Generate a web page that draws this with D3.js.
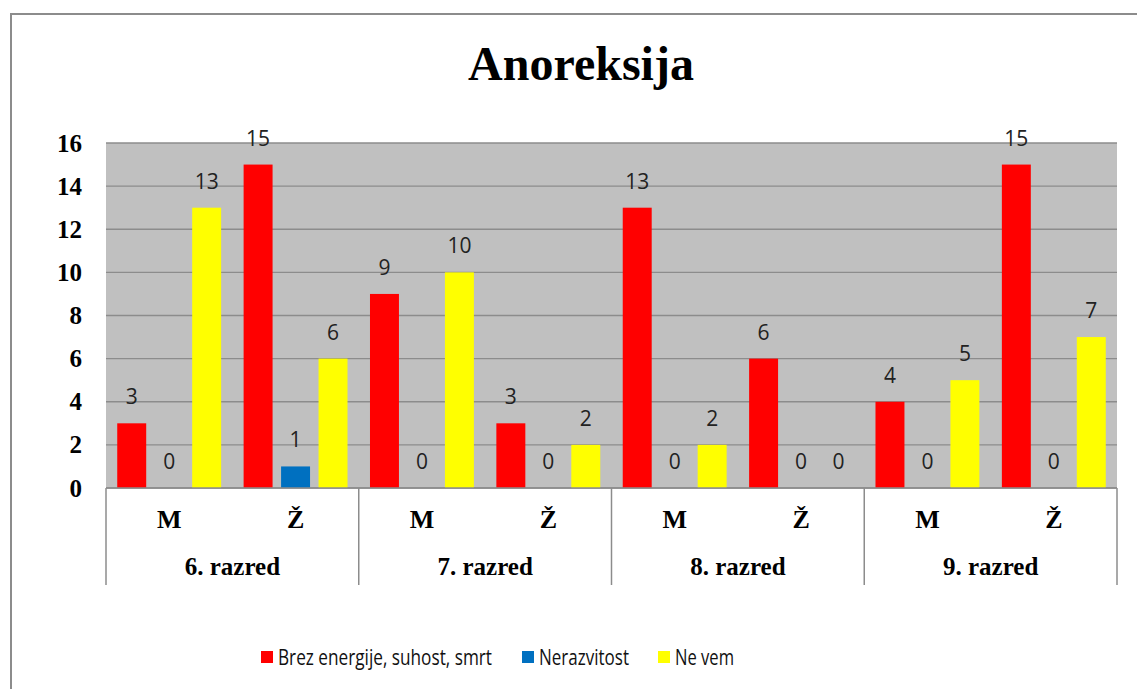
<!DOCTYPE html>
<html>
<head>
<meta charset="utf-8">
<script src="https://cdn.jsdelivr.net/npm/d3@7"></script>
<style>
  body { margin: 0; background: #fff; }
  svg { display: block; }
</style>
</head>
<body>
<div id="chart-container"></div>
<script>
// data
var groups = ["6. razred", "7. razred", "8. razred", "9. razred"];
var genders = ["M", "Ž"];
var seriesNames = ["Brez energije, suhost, smrt", "Nerazvitost", "Ne vem"];
var seriesColors = ["#ff0000", "#0070c0", "#ffff00"];
var brezEnergije = [3, 15, 9, 3, 13, 6, 4, 15];
var nerazvitost = [0, 1, 0, 0, 0, 0, 0, 0];
var neVem = [13, 6, 10, 2, 2, 0, 5, 7];
var yTicks = [0, 2, 4, 6, 8, 10, 12, 14, 16];

var W = 1137, H = 689;
var plot = { left: 106, right: 1117, top: 143, bottom: 488 };

var svg = d3.select("#chart-container")
  .append("svg")
  .attr("width", W)
  .attr("height", H);

// outer frame (runs off the page right and bottom)
svg.append("rect")
  .attr("x", 11).attr("y", 14)
  .attr("width", W + 20).attr("height", H + 20)
  .style("fill", "#fff")
  .style("stroke", "#8c8c8c")
  .style("stroke-width", 2);

// sub categories: group + gender
var cats = [];
groups.forEach(function (g) {
  genders.forEach(function (s) { cats.push(g + "|" + s); });
});
var series = [brezEnergije, nerazvitost, neVem];

var x0 = d3.scaleBand().domain(cats).range([plot.left, plot.right]);
var x1 = d3.scaleBand().domain(d3.range(series.length))
  .range([0, x0.bandwidth()])
  .paddingInner(0.227).paddingOuter(0.3);
var xg = d3.scaleBand().domain(groups).range([plot.left, plot.right]);

var y = d3.scaleLinear().domain([0, 16]).range([plot.bottom, plot.top]);

// plot background
svg.append("rect")
  .attr("x", plot.left).attr("y", plot.top)
  .attr("width", plot.right - plot.left).attr("height", plot.bottom - plot.top)
  .style("fill", "#c0c0c0");

// grid
svg.append("g")
  .selectAll("line")
  .data(yTicks)
  .enter().append("line")
  .attr("x1", plot.left).attr("x2", plot.right)
  .attr("y1", function (d) { return y(d); })
  .attr("y2", function (d) { return y(d); })
  .style("stroke", "#8c8c8c")
  .style("stroke-width", 1.3);

// y axis labels
var yAxis = d3.axisLeft(y).tickValues(yTicks).tickSize(0).tickPadding(24);
var yg = svg.append("g")
  .attr("transform", "translate(" + plot.left + ",0)")
  .call(yAxis);
yg.select(".domain").remove();
yg.selectAll("text")
  .style("font-family", "'Liberation Serif', 'Times New Roman', serif")
  .style("font-weight", "bold")
  .style("font-size", "25px")
  .style("fill", "#000");

// bars
series.forEach(function (vals, si) {
  var g = svg.append("g");
  g.selectAll("rect")
    .data(vals)
    .enter().append("rect")
    .attr("x", function (d, i) { return x0(cats[i]) + x1(si); })
    .attr("y", function (d) { return y(d); })
    .attr("width", x1.bandwidth())
    .attr("height", function (d) { return y(0) - y(d); })
    .style("fill", seriesColors[si]);

  g.selectAll("text")
    .data(vals)
    .enter().append("text")
    .attr("x", function (d, i) { return x0(cats[i]) + x1(si) + x1.bandwidth() / 2; })
    .attr("y", function (d) { return y(d) - 19; })
    .attr("text-anchor", "middle")
    .style("font-family", "'Open Sans', sans-serif")
    .style("font-size", "21px")
    .style("fill", "#222")
    .text(function (d) { return d; });
});

// x axis base line
svg.append("line")
  .attr("x1", plot.left).attr("x2", plot.right)
  .attr("y1", plot.bottom).attr("y2", plot.bottom)
  .style("stroke", "#8c8c8c")
  .style("stroke-width", 1.5);

// group separators
var seps = groups.map(function (g) { return xg(g); }).concat([plot.right]);
svg.append("g")
  .selectAll("line")
  .data(seps)
  .enter().append("line")
  .attr("x1", function (d) { return d; })
  .attr("x2", function (d) { return d; })
  .attr("y1", plot.bottom).attr("y2", 585)
  .style("stroke", "#8c8c8c")
  .style("stroke-width", 1.5);

// gender labels
svg.append("g")
  .selectAll("text")
  .data(cats)
  .enter().append("text")
  .attr("x", function (d) { return x0(d) + x0.bandwidth() / 2; })
  .attr("y", 528)
  .attr("text-anchor", "middle")
  .style("font-family", "'Liberation Serif', 'Times New Roman', serif")
  .style("font-weight", "bold")
  .style("font-size", "26px")
  .text(function (d) { return d.split("|")[1]; });

// group labels
svg.append("g")
  .selectAll("text")
  .data(groups)
  .enter().append("text")
  .attr("x", function (d) { return xg(d) + xg.bandwidth() / 2; })
  .attr("y", 575)
  .attr("text-anchor", "middle")
  .style("font-family", "'Liberation Serif', 'Times New Roman', serif")
  .style("font-weight", "bold")
  .style("font-size", "25px")
  .text(function (d) { return d; });

// title
svg.append("text")
  .attr("x", 581).attr("y", 80)
  .attr("text-anchor", "middle")
  .style("font-family", "'Liberation Serif', 'Times New Roman', serif")
  .style("font-weight", "bold")
  .style("font-size", "48px")
  .text("Anoreksija");

// legend
var legendX = [261, 522, 658];
var legendW = [214, 90, 59];
var legend = svg.append("g");
seriesNames.forEach(function (name, i) {
  legend.append("rect")
    .attr("x", legendX[i]).attr("y", 651)
    .attr("width", 12).attr("height", 12)
    .style("fill", seriesColors[i]);
  legend.append("text")
    .attr("x", legendX[i] + 17).attr("y", 665)
    .attr("textLength", legendW[i])
    .attr("lengthAdjust", "spacingAndGlyphs")
    .style("font-family", "'Open Sans', sans-serif")
    .style("font-size", "21px")
    .style("fill", "#111")
    .text(name);
});
</script>
</body>
</html>
